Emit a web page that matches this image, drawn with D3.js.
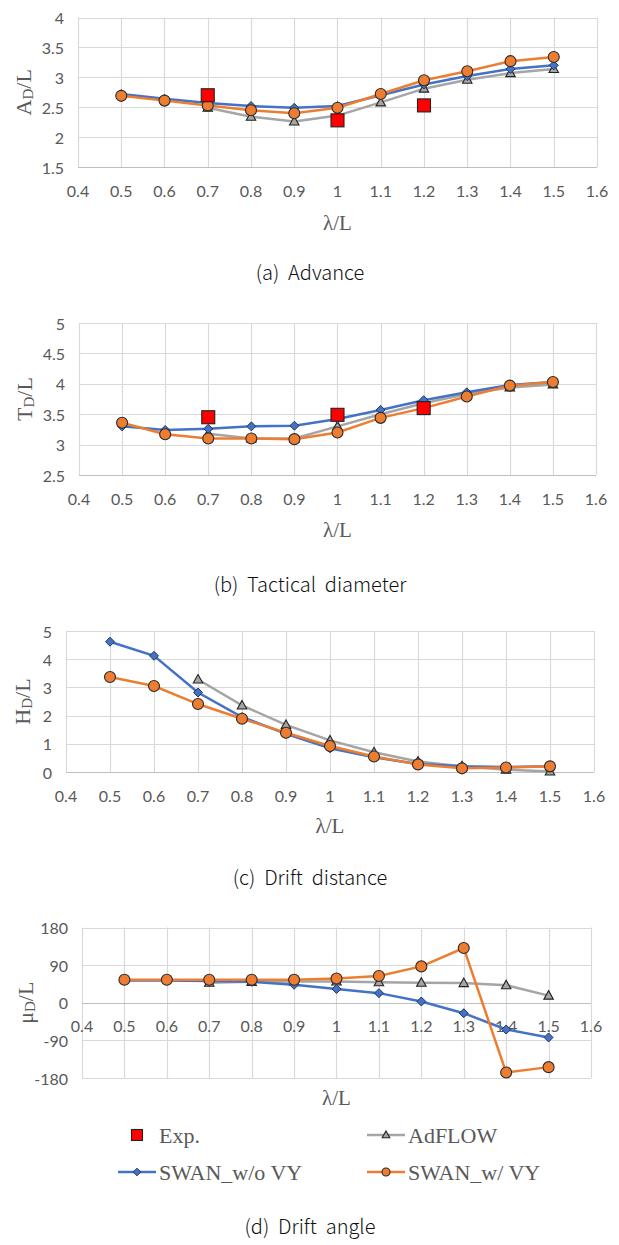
<!DOCTYPE html>
<html>
<head>
<meta charset="utf-8">
<script src="https://cdn.jsdelivr.net/npm/d3@7"></script>
<style>
  html, body { margin: 0; padding: 0; background: #fff; }
  svg { display: block; }
</style>
</head>
<body>
<svg id="chart" width="619" height="1245"></svg>
<script>
// ---------------- DATA ----------------
const lambdaAll = [0.5, 0.6, 0.7, 0.8, 0.9, 1.0, 1.1, 1.2, 1.3, 1.4, 1.5];
const lambdaAdflow = [0.7, 0.8, 0.9, 1.0, 1.1, 1.2, 1.3, 1.4, 1.5];
const lambdaExp = [0.7, 1.0, 1.2];
const xTicks = [0.4, 0.5, 0.6, 0.7, 0.8, 0.9, 1.0, 1.1, 1.2, 1.3, 1.4, 1.5, 1.6];
const xTickLabels = ["0.4", "0.5", "0.6", "0.7", "0.8", "0.9", "1", "1.1", "1.2", "1.3", "1.4", "1.5", "1.6"];

// (a) Advance  A_D/L
const advExp = [2.70, 2.28, 2.53];
const advAdflow = [2.49, 2.34, 2.26, 2.36, 2.58, 2.81, 2.96, 3.07, 3.14];
const advSwanWo = [2.72, 2.64, 2.57, 2.52, 2.49, 2.52, 2.70, 2.88, 3.02, 3.14, 3.20];
const advSwanW = [2.69, 2.61, 2.53, 2.45, 2.40, 2.49, 2.72, 2.95, 3.10, 3.27, 3.34];
const advYTicks = [1.5, 2, 2.5, 3, 3.5, 4];
const advYLabels = ["1.5", "2", "2.5", "3", "3.5", "4"];

// (b) Tactical diameter  T_D/L
const tacExp = [3.45, 3.49, 3.60];
const tacAdflow = [3.18, 3.10, 3.10, 3.30, 3.50, 3.68, 3.83, 3.94, 3.99];
const tacSwanWo = [3.30, 3.24, 3.26, 3.30, 3.31, 3.42, 3.57, 3.73, 3.86, 3.98, 4.03];
const tacSwanW = [3.36, 3.17, 3.10, 3.10, 3.09, 3.20, 3.44, 3.60, 3.79, 3.97, 4.03];
const tacYTicks = [2.5, 3, 3.5, 4, 4.5, 5];
const tacYLabels = ["2.5", "3", "3.5", "4", "4.5", "5"];

// (c) Drift distance  H_D/L
const driftAdflow = [3.28, 2.36, 1.67, 1.12, 0.70, 0.37, 0.20, 0.08, 0.02];
const driftSwanWo = [4.62, 4.12, 2.82, 1.95, 1.35, 0.84, 0.52, 0.28, 0.20, 0.18, 0.20];
const driftSwanW = [3.37, 3.05, 2.41, 1.89, 1.39, 0.92, 0.55, 0.27, 0.13, 0.16, 0.20];
const driftYTicks = [0, 1, 2, 3, 4, 5];
const driftYLabels = ["0", "1", "2", "3", "4", "5"];

// (d) Drift angle  mu_D/L
const angAdflow = [48, 50, 51, 51, 49, 48, 47, 42, 17];
const angSwanWo = [53, 53, 52, 50, 43, 33, 23, 3, -25, -64, -83];
const angSwanW = [55, 55, 55, 55, 55, 58, 64, 87, 131, -167, -154];
const angYTicks = [-180, -90, 0, 90, 180];
const angYLabels = ["-180", "-90", "0", "90", "180"];

const seriesNames = ["Exp.", "AdFLOW", "SWAN_w/o VY", "SWAN_w/ VY"];

// ---------------- STYLE / LAYOUT ----------------
const C = {
  exp: "#FF0000", adflow: "#A5A5A5", wo: "#4472C4", w: "#ED7D31",
  grid: "#D9D9D9", axis: "#BFBFBF", text: "#595959", cap: "#111111"
};
const tickFont = "Lato, 'Open Sans', sans-serif";
const serif = "'Liberation Serif', 'DejaVu Serif', serif";
const capFont = "'Noto Sans CJK KR', 'Noto Sans', sans-serif";

const panels = [
  { left: 78, right: 597, top: 17.5, bottom: 167, yDomain: [1.5, 4], yTicks: advYTicks, yLabels: advYLabels,
    main: "A", sub: "D", exp: advExp, adflow: advAdflow, wo: advSwanWo, w: advSwanW,
    xAxisAt: 1.5, xTitleY: 223, titleX: 23, caption: "(a)  Advance", captionY: 271 },
  { left: 79, right: 596, top: 323, bottom: 475, yDomain: [2.5, 5], yTicks: tacYTicks, yLabels: tacYLabels,
    main: "T", sub: "D", exp: tacExp, adflow: tacAdflow, wo: tacSwanWo, w: tacSwanW,
    xAxisAt: 2.5, xTitleY: 530, titleX: 24, caption: "(b)  Tactical  diameter", captionY: 583 },
  { left: 66, right: 594, top: 631, bottom: 772, yDomain: [0, 5], yTicks: driftYTicks, yLabels: driftYLabels,
    main: "H", sub: "D", exp: null, adflow: driftAdflow, wo: driftSwanWo, w: driftSwanW,
    xAxisAt: 0, xTitleY: 826, titleX: 22, caption: "(c)  Drift  distance", captionY: 876 },
  { left: 82, right: 591, top: 927.5, bottom: 1078, yDomain: [-180, 180], yTicks: angYTicks, yLabels: angYLabels,
    main: "\u03BC", sub: "D", exp: null, adflow: angAdflow, wo: angSwanWo, w: angSwanW,
    xAxisAt: 0, xTitleY: 1098, titleX: 25, caption: "(d)  Drift  angle", captionY: 1225 }
];

const svg = d3.select("#chart");

function drawMarker(g, type, x, y, s) {
  if (type === "circle") {
    g.append("circle").attr("cx", x).attr("cy", y).attr("r", s)
      .attr("fill", C.w).attr("stroke", "#2b2b2b").attr("stroke-width", 1.1);
  } else if (type === "diamond") {
    g.append("path").attr("d", `M${x},${y - s}L${x + s},${y}L${x},${y + s}L${x - s},${y}Z`)
      .attr("fill", C.wo).attr("stroke", "#1f3864").attr("stroke-width", 1);
  } else if (type === "triangle") {
    g.append("path").attr("d", `M${x},${y - s}L${x + s * 0.95},${y + s * 0.7}L${x - s * 0.95},${y + s * 0.7}Z`)
      .attr("fill", "#A5A5A5").attr("stroke", "#222").attr("stroke-width", 1.1);
  } else if (type === "square") {
    g.append("rect").attr("x", x - s).attr("y", y - s).attr("width", 2 * s).attr("height", 2 * s)
      .attr("fill", C.exp).attr("stroke", "#222").attr("stroke-width", 1.1);
  }
}

panels.forEach(p => {
  const x = d3.scaleLinear().domain([0.4, 1.6]).range([p.left, p.right]);
  const y = d3.scaleLinear().domain(p.yDomain).range([p.bottom, p.top]);
  const g = svg.append("g");

  // gridlines
  g.append("g").selectAll("line").data(p.yTicks).join("line")
    .attr("x1", p.left).attr("x2", p.right)
    .attr("y1", d => Math.round(y(d)) + 0.5).attr("y2", d => Math.round(y(d)) + 0.5)
    .attr("stroke", C.grid).attr("stroke-width", 1.2);
  g.append("g").selectAll("line").data(xTicks).join("line")
    .attr("x1", d => Math.round(x(d)) + 0.5).attr("x2", d => Math.round(x(d)) + 0.5)
    .attr("y1", p.top).attr("y2", p.bottom)
    .attr("stroke", C.grid).attr("stroke-width", 1.2);

  // x axis line (at xAxisAt)
  const ax = Math.round(y(p.xAxisAt)) + 0.5;
  g.append("line").attr("x1", p.left).attr("x2", p.right).attr("y1", ax).attr("y2", ax)
    .attr("stroke", C.axis).attr("stroke-width", 1.2);

  // y tick labels
  g.append("g").selectAll("text").data(p.yTicks).join("text")
    .attr("x", p.left - 14).attr("y", d => y(d))
    .attr("text-anchor", "end").attr("dominant-baseline", "central")
    .attr("font-family", tickFont).attr("font-size", 16).attr("fill", C.text)
    .text((d, i) => p.yLabels[i]);

  // x tick labels
  g.append("g").selectAll("text").data(xTicks).join("text")
    .attr("x", d => x(d)).attr("y", y(p.xAxisAt) + 23)
    .attr("text-anchor", "middle").attr("dominant-baseline", "central")
    .attr("font-family", tickFont).attr("font-size", 16).attr("fill", C.text)
    .text((d, i) => xTickLabels[i]);

  // x title
  g.append("text").attr("x", (p.left + p.right) / 2).attr("y", p.xTitleY)
    .attr("text-anchor", "middle").attr("dominant-baseline", "central")
    .attr("font-family", serif).attr("font-size", 21).attr("fill", C.text)
    .text("\u03BB/L");

  // y title (rotated)
  const yt = g.append("text")
    .attr("transform", `translate(${p.titleX},${(p.top + p.bottom) / 2}) rotate(-90)`)
    .attr("text-anchor", "middle").attr("dominant-baseline", "central")
    .attr("font-family", serif).attr("font-size", 22).attr("fill", C.text);
  yt.append("tspan").text(p.main);
  yt.append("tspan").attr("font-size", 15).attr("dy", 5).text(p.sub);
  yt.append("tspan").attr("dy", -5).text("/L");

  // lines
  const line = d3.line().x(d => x(d[0])).y(d => y(d[1]));
  const adPts = lambdaAdflow.map((l, i) => [l, p.adflow[i]]);
  const woPts = lambdaAll.map((l, i) => [l, p.wo[i]]);
  const wPts = lambdaAll.map((l, i) => [l, p.w[i]]);

  g.append("path").attr("d", line(adPts)).attr("fill", "none").attr("stroke", C.adflow).attr("stroke-width", 2.5);
  adPts.forEach(d => drawMarker(g, "triangle", x(d[0]), y(d[1]), 5));
  g.append("path").attr("d", line(woPts)).attr("fill", "none").attr("stroke", C.wo).attr("stroke-width", 2.5);
  woPts.forEach(d => drawMarker(g, "diamond", x(d[0]), y(d[1]), 4.5));
  g.append("path").attr("d", line(wPts)).attr("fill", "none").attr("stroke", C.w).attr("stroke-width", 2.5);
  wPts.forEach(d => drawMarker(g, "circle", x(d[0]), y(d[1]), 5.5));

  if (p.exp) {
    lambdaExp.forEach((l, i) => drawMarker(g, "square", x(l), y(p.exp[i]), 6.5));
  }

  // caption
  svg.append("text").attr("x", 310).attr("y", p.captionY)
    .attr("text-anchor", "middle").attr("dominant-baseline", "central")
    .attr("font-family", capFont).attr("font-size", 20).attr("font-weight", 300).attr("fill", C.cap)
    .attr("xml:space", "preserve").style("white-space", "pre")
    .text(p.caption);
});

// ---------------- LEGEND ----------------
const lg = svg.append("g");
const legendItems = [
  { name: seriesNames[0], type: "square", color: null, x: 118, y: 1135 },
  { name: seriesNames[1], type: "triangle", color: C.adflow, x: 367, y: 1135 },
  { name: seriesNames[2], type: "diamond", color: C.wo, x: 118, y: 1172 },
  { name: seriesNames[3], type: "circle", color: C.w, x: 367, y: 1172 }
];
legendItems.forEach(it => {
  const cx = it.x + 19;
  if (it.color) {
    lg.append("line").attr("x1", it.x).attr("x2", it.x + 38).attr("y1", it.y).attr("y2", it.y)
      .attr("stroke", it.color).attr("stroke-width", 2.5);
  }
  const s = it.type === "square" ? 5.5 : it.type === "circle" ? 4 : it.type === "triangle" ? 4 : 3.8;
  drawMarker(lg, it.type, cx, it.y, s);
  lg.append("text").attr("x", it.x + 41).attr("y", it.y)
    .attr("dominant-baseline", "central")
    .attr("font-family", serif).attr("font-size", 22).attr("fill", C.text)
    .text(it.name);
});
</script>
</body>
</html>
